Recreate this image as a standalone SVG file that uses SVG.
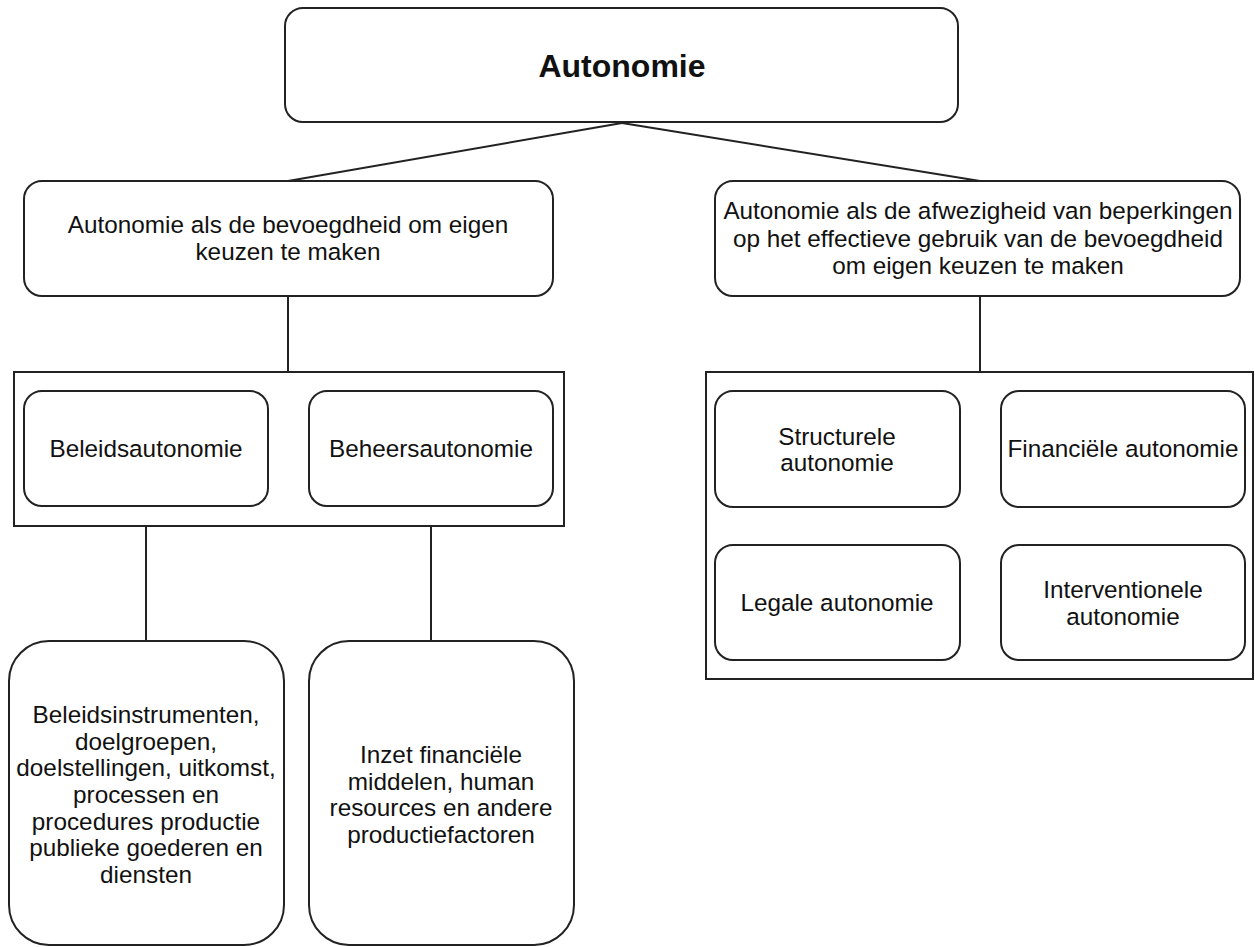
<svg xmlns="http://www.w3.org/2000/svg" width="1255" height="947" viewBox="0 0 1255 947">
<style>
.box{fill:#fff;stroke:#222;stroke-width:2}
.t{font-family:"Liberation Sans",Arial,sans-serif;font-size:24.3px;fill:#111;text-anchor:middle}
.b{font-family:"Liberation Sans",Arial,sans-serif;font-size:32px;font-weight:bold;fill:#111;text-anchor:middle}
.c{fill:none;stroke:#222;stroke-width:2}
</style>
<rect width="1255" height="947" fill="#fff"/>
<g id="connectors">
<line class="c" x1="622" y1="123" x2="288" y2="181"/>
<line class="c" x1="622" y1="123" x2="980" y2="181"/>
<line class="c" x1="288" y1="296" x2="288" y2="372"/>
<line class="c" x1="980" y1="296" x2="980" y2="372"/>
<line class="c" x1="146" y1="506" x2="146" y2="641"/>
<line class="c" x1="431" y1="506" x2="431" y2="641"/>
</g>
<g id="root">
<rect class="box" x="285" y="8" width="673" height="114" rx="18"/>
<text class="b" x="622" y="77">Autonomie</text>
</g>
<g id="left">
<rect class="box" x="24" y="181" width="529" height="115" rx="18"/>
<text class="t" x="288" y="233">Autonomie als de bevoegdheid om eigen</text>
<text class="t" x="288" y="260">keuzen te maken</text>
</g>
<g id="right">
<rect class="box" x="715" y="181" width="525" height="115" rx="18"/>
<text class="t" x="978" y="219">Autonomie als de afwezigheid van beperkingen</text>
<text class="t" x="978" y="247">op het effectieve gebruik van de bevoegdheid</text>
<text class="t" x="978" y="274">om eigen keuzen te maken</text>
</g>
<g id="left-group">
<rect class="box" x="14" y="372" width="550" height="154"/>
</g>
<g id="beleids">
<rect class="box" x="24" y="391" width="244" height="115" rx="18"/>
<text class="t" x="146" y="457">Beleidsautonomie</text>
</g>
<g id="beheers">
<rect class="box" x="309" y="391" width="244" height="115" rx="18"/>
<text class="t" x="431" y="457">Beheersautonomie</text>
</g>
<g id="right-group">
<rect class="box" x="706" y="372" width="547" height="307"/>
</g>
<g id="structurele">
<rect class="box" x="715" y="391" width="245" height="116" rx="18"/>
<text class="t" x="837" y="445">Structurele</text>
<text class="t" x="837" y="471">autonomie</text>
</g>
<g id="financiele">
<rect class="box" x="1001" y="391" width="244" height="116" rx="18"/>
<text class="t" x="1123" y="457">Financiële autonomie</text>
</g>
<g id="legale">
<rect class="box" x="715" y="545" width="245" height="115" rx="18"/>
<text class="t" x="837" y="611">Legale autonomie</text>
</g>
<g id="interventionele">
<rect class="box" x="1001" y="545" width="244" height="115" rx="18"/>
<text class="t" x="1123" y="598">Interventionele</text>
<text class="t" x="1123" y="625">autonomie</text>
</g>
<g id="beleids-detail">
<rect class="box" x="9" y="641" width="275" height="304" rx="40"/>
<text class="t" x="146" y="723">Beleidsinstrumenten,</text>
<text class="t" x="146" y="750">doelgroepen,</text>
<text class="t" x="146" y="776">doelstellingen, uitkomst,</text>
<text class="t" x="146" y="803">processen en</text>
<text class="t" x="146" y="830">procedures productie</text>
<text class="t" x="146" y="856">publieke goederen en</text>
<text class="t" x="146" y="883">diensten</text>
</g>
<g id="beheers-detail">
<rect class="box" x="309" y="641" width="265" height="304" rx="40"/>
<text class="t" x="441" y="763">Inzet financiële</text>
<text class="t" x="441" y="790">middelen, human</text>
<text class="t" x="441" y="816">resources en andere</text>
<text class="t" x="441" y="843">productiefactoren</text>
</g>
</svg>
